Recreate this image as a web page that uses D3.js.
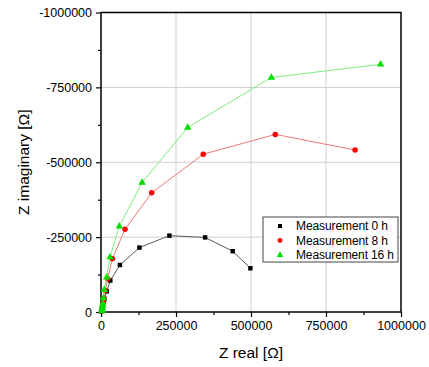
<!DOCTYPE html>
<html>
<head>
<meta charset="utf-8">
<script src="https://cdn.jsdelivr.net/npm/d3@7"></script>
<style>
  body { margin: 0; background: #fff; }
  text { font-family: "Liberation Sans", Arial, sans-serif; }
</style>
</head>
<body>
<div id="chart"></div>
<script>
// values: [Z real, Z imaginary]
let series0h = [[1000, -2000], [2000, -5000], [3000, -9000], [5000, -16000], [7000, -26000], [11000, -42000],
    [19000, -69000], [31000, -105000], [63000, -157000], [128000, -215000], [228000, -255000],
    [347000, -249000], [439000, -203000], [498000, -146000]];
let series8h = [[2000, -4000], [3000, -9000], [5000, -18000], [7000, -30000], [10000, -45000], [14000, -72000],
    [22000, -111000], [38000, -178000], [80000, -276000], [169000, -398000], [341000, -527000],
    [581000, -593000], [847000, -541000]];
let series16h = [[3000, -3000], [4000, -8000], [4000, -14000], [5000, -20000], [6000, -28000], [8000, -46000],
    [11000, -74000], [19000, -116000], [30000, -183000], [61000, -286000], [137000, -432000],
    [289000, -616000], [568000, -783000], [932000, -827000]];
let legendLabels = ["Measurement 0 h", "Measurement 8 h", "Measurement 16 h"];
let xTicks = [0, 250000, 500000, 750000, 1000000];
let yTicks = [0, -250000, -500000, -750000, -1000000];

const width = 429, height = 367;
const margin = {left: 101, right: 28, top: 12.5, bottom: 55};

var svg = d3.select("#chart").append("svg")
    .attr("width", width)
    .attr("height", height);

var x = d3.scaleLinear().domain([0, 1000000]).range([margin.left, width - margin.right]);
var y = d3.scaleLinear().domain([0, -1000000]).range([height - margin.bottom, margin.top]);

// plain hyphen for negatives, like the original
let fmt = d => String(d);

// grid
svg.append("g").selectAll("line")
    .data(xTicks.slice(1, -1)).enter().append("line")
    .attr("x1", d => x(d)).attr("x2", d => x(d))
    .attr("y1", y(0)).attr("y2", y(-1000000))
    .attr("stroke", "#cfcfcf").attr("stroke-width", 1);
svg.append("g").selectAll("line")
    .data(yTicks.slice(1, -1)).enter().append("line")
    .attr("y1", d => y(d)).attr("y2", d => y(d))
    .attr("x1", x(0)).attr("x2", x(1000000))
    .attr("stroke", "#cfcfcf").attr("stroke-width", 1);

// axes
let xAxis = svg.append("g")
    .attr("transform", "translate(0," + y(0) + ")")
    .call(d3.axisBottom(x).tickValues(xTicks).tickFormat(fmt).tickSize(5).tickPadding(4));
let xMinor = svg.append("g")
    .attr("transform", "translate(0," + y(0) + ")")
    .call(d3.axisBottom(x).tickValues([125000, 375000, 625000, 875000]).tickFormat("").tickSize(3));
let yAxis = svg.append("g")
    .attr("transform", "translate(" + x(0) + ",0)")
    .call(d3.axisLeft(y).tickValues(yTicks).tickFormat(fmt).tickSize(5).tickPadding(4));
let yMinor = svg.append("g")
    .attr("transform", "translate(" + x(0) + ",0)")
    .call(d3.axisLeft(y).tickValues([-125000, -375000, -625000, -875000]).tickFormat("").tickSize(3));

[xAxis, xMinor, yAxis, yMinor].forEach(function(g) {
    g.select(".domain").remove();
    g.selectAll("line").attr("stroke", "#000").attr("stroke-width", 1.2);
    g.selectAll("text").attr("fill", "#000").style("font-size", "12.5px")
        .style("font-family", "'Liberation Sans', Arial, sans-serif");
});

// frame
svg.append("rect")
    .attr("x", x(0)).attr("y", y(-1000000))
    .attr("width", x(1000000) - x(0)).attr("height", y(0) - y(-1000000))
    .attr("fill", "none").attr("stroke", "#000").attr("stroke-width", 1.5);

let line = d3.line().x(d => x(d[0])).y(d => y(d[1]));

let styles = [
    {data: series0h, line: "#5a5a5a", mark: "#000000", symbol: d3.symbolSquare, size: 20},
    {data: series8h, line: "#f07878", mark: "#ff0000", symbol: d3.symbolCircle, size: 24},
    {data: series16h, line: "#80ec80", mark: "#00e000", symbol: d3.symbolTriangle, size: 24}
];

styles.forEach(function(s) {
    svg.append("path")
        .datum(s.data)
        .attr("d", line)
        .attr("fill", "none")
        .attr("stroke", s.line)
        .attr("stroke-width", 1);
    svg.append("g").selectAll("path")
        .data(s.data).enter().append("path")
        .attr("transform", d => "translate(" + x(d[0]) + "," + y(d[1]) + ")")
        .attr("d", d3.symbol().type(s.symbol).size(s.size))
        .attr("fill", s.mark);
});

// legend
let legend = svg.append("g").attr("transform", "translate(263,217)");
legend.append("rect")
    .attr("width", 135).attr("height", 45)
    .attr("fill", "#fff").attr("stroke", "#444").attr("stroke-width", 1);
legendLabels.forEach(function(lab, i) {
    legend.append("path")
        .attr("transform", "translate(17," + (9 + i * 14.5) + ")")
        .attr("d", d3.symbol().type(styles[i].symbol).size(styles[i].size * 0.8))
        .attr("fill", styles[i].mark);
    legend.append("text")
        .attr("x", 33).attr("y", 9 + i * 14.5)
        .attr("dy", "0.36em")
        .attr("textLength", lab.length > 15 ? 98 : 92)
        .style("font-size", "12px")
        .text(lab);
});

// axis titles
svg.append("text")
    .attr("x", (x(0) + x(1000000)) / 2).attr("y", 358)
    .attr("text-anchor", "middle")
    .style("font-size", "15.5px")
    .text("Z real [Ω]");
svg.append("text")
    .attr("transform", "translate(29," + ((y(0) + y(-1000000)) / 2) + ") rotate(-90)")
    .attr("text-anchor", "middle")
    .style("font-size", "15.5px")
    .text("Z imaginary [Ω]");
</script>
</body>
</html>
